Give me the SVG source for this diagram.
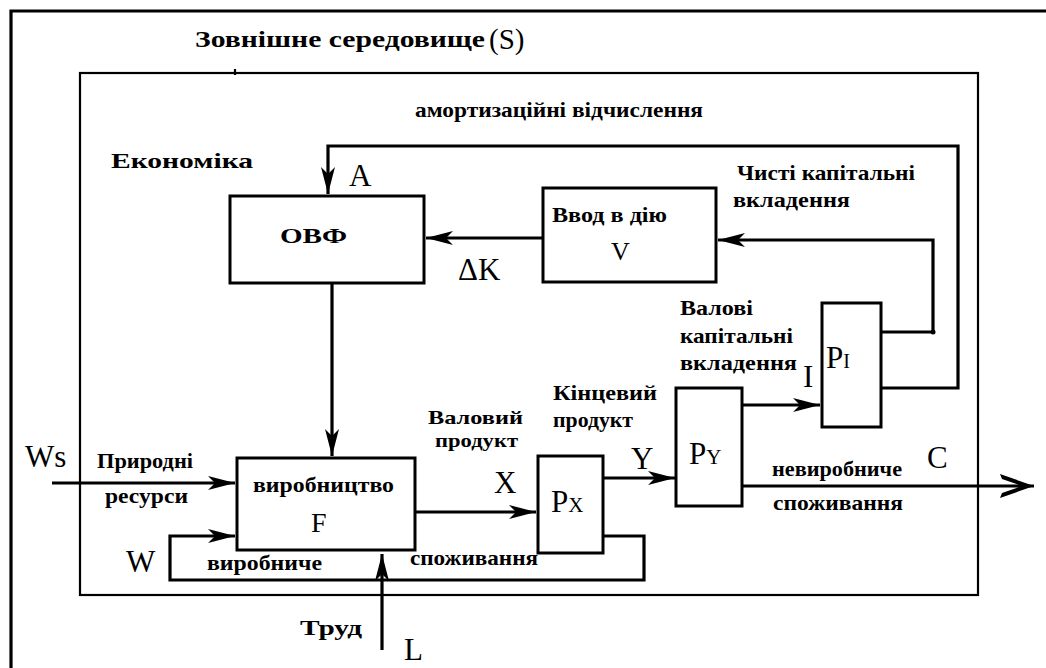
<svg xmlns="http://www.w3.org/2000/svg" width="1046" height="668" viewBox="0 0 1046 668" font-family="Liberation Serif, Times New Roman, serif">
<style>
.lbl{font-family:"Liberation Serif","Times New Roman",serif;font-weight:bold;font-size:21px;fill:#000}
.sym{font-family:"Liberation Serif","Times New Roman",serif;font-size:31px;fill:#000}
.box{fill:#fff;stroke:#000;stroke-width:3}
.ln{fill:none;stroke:#000;stroke-width:3.2}
.thin{fill:none;stroke:#000;stroke-width:2.2}
</style>
<defs>
<marker id="ah" markerUnits="userSpaceOnUse" markerWidth="30" markerHeight="18" refX="27" refY="9" orient="auto">
<path d="M0,2 L27,9 L0,16 L7,9 Z" fill="#000"/>
</marker>
<marker id="ahc" markerUnits="userSpaceOnUse" markerWidth="40" markerHeight="30" refX="36" refY="15" orient="auto">
<path d="M2,3 L36,15 L2,27 L4,22 L24,15 L4,8 Z" fill="#000"/>
</marker>
</defs>
<rect width="1046" height="668" fill="#fff"/>
<g id="environment">
<path class="ln" d="M11,668 V11 H1046"/>
<text class="lbl" x="195" y="47" textLength="290" lengthAdjust="spacingAndGlyphs" style="font-size:24px">Зовнішне середовище</text>
<text class="sym" x="489" y="49" style="font-size:29px">(S)</text>
</g>
<g id="economy">
<rect class="thin" x="80" y="73" width="898" height="522"/>
<line class="thin" x1="235" y1="69" x2="235" y2="75"/>
<text class="lbl" x="111" y="168" textLength="142" lengthAdjust="spacingAndGlyphs" style="font-size:22px">Економіка</text>
</g>
<g id="connectors">
<path class="ln" d="M881,388 H958 V146 H328 V194" marker-end="url(#ah)"/>
<path class="ln" d="M881,332 H933 V240 H718" marker-end="url(#ah)"/>
<circle cx="933" cy="332" r="2.5" fill="#000"/>
<path class="ln" d="M543,238 H426" marker-end="url(#ah)"/>
<path class="ln" d="M332,283 V456" marker-end="url(#ah)"/>
<path class="ln" d="M52,483 H235" marker-end="url(#ah)"/>
<path class="ln" d="M415,512 H536" marker-end="url(#ah)"/>
<path class="ln" d="M603,478 H675" marker-end="url(#ah)"/>
<path class="ln" d="M742,405 H820" marker-end="url(#ah)"/>
<path class="ln" d="M742,486 H1034" marker-end="url(#ahc)"/>
<path class="ln" d="M603,536 H644 V580 H170 V536 H235" marker-end="url(#ah)"/>
<path class="ln" d="M382,650 V554" marker-end="url(#ah)"/>
</g>
<g id="node-ovf">
<rect class="box" x="230" y="196" width="194" height="87"/>
<text class="lbl" x="280" y="243" textLength="67" lengthAdjust="spacingAndGlyphs">ОВФ</text>
</g>
<g id="node-v">
<rect class="box" x="543" y="188" width="173" height="94"/>
<text class="lbl" x="552" y="222" textLength="115" lengthAdjust="spacingAndGlyphs">Ввод в дію</text>
<text class="sym" x="611" y="260" style="font-size:26px">V</text>
</g>
<g id="node-f">
<rect class="box" x="237" y="458" width="178" height="92"/>
<text class="lbl" x="253" y="492" textLength="141" lengthAdjust="spacingAndGlyphs">виробництво</text>
<text class="sym" x="311" y="532" style="font-size:28px">F</text>
</g>
<g id="node-px">
<rect class="box" x="538" y="456" width="65" height="97"/>
<text class="sym" x="551" y="512">P<tspan style="font-size:21px">X</tspan></text>
</g>
<g id="node-py">
<rect class="box" x="676" y="388" width="66" height="118"/>
<text class="sym" x="689" y="464">P<tspan style="font-size:21px">Y</tspan></text>
</g>
<g id="node-pi">
<rect class="box" x="822" y="303" width="59" height="124"/>
<text class="sym" x="826" y="368">P<tspan style="font-size:20px">I</tspan></text>
</g>
<g id="labels">
<text class="lbl" x="415" y="117" textLength="288" lengthAdjust="spacingAndGlyphs">амортизаційні відчислення</text>
<text class="sym" x="349" y="186">A</text>
<text class="sym" x="458" y="280">ΔK</text>
<text class="lbl" x="737" y="180" textLength="178" lengthAdjust="spacingAndGlyphs">Чисті капітальні</text>
<text class="lbl" x="733" y="207" textLength="117" lengthAdjust="spacingAndGlyphs">вкладення</text>
<text class="lbl" x="680" y="315" textLength="73" lengthAdjust="spacingAndGlyphs">Валові</text>
<text class="lbl" x="680" y="343" textLength="113" lengthAdjust="spacingAndGlyphs">капітальні</text>
<text class="lbl" x="680" y="370" textLength="117" lengthAdjust="spacingAndGlyphs">вкладення</text>
<text class="sym" x="803" y="387">I</text>
<text class="lbl" x="553" y="400" textLength="104" lengthAdjust="spacingAndGlyphs">Кінцевий</text>
<text class="lbl" x="553" y="427" textLength="80" lengthAdjust="spacingAndGlyphs">продукт</text>
<text class="sym" x="631" y="469">Y</text>
<text class="lbl" x="428" y="424" textLength="95" lengthAdjust="spacingAndGlyphs" style="font-size:19px">Валовий</text>
<text class="lbl" x="435" y="447" textLength="83" lengthAdjust="spacingAndGlyphs" style="font-size:19px">продукт</text>
<text class="sym" x="494" y="493">X</text>
<text class="lbl" x="772" y="476" textLength="130" lengthAdjust="spacingAndGlyphs">невиробниче</text>
<text class="sym" x="927" y="468">C</text>
<text class="lbl" x="773" y="510" textLength="130" lengthAdjust="spacingAndGlyphs">споживання</text>
<text class="sym" x="25" y="467">Ws</text>
<text class="lbl" x="97" y="468" textLength="96" lengthAdjust="spacingAndGlyphs">Природні</text>
<text class="lbl" x="105" y="503" textLength="83" lengthAdjust="spacingAndGlyphs">ресурси</text>
<text class="sym" x="126" y="572">W</text>
<text class="lbl" x="207" y="570" textLength="115" lengthAdjust="spacingAndGlyphs">виробниче</text>
<text class="lbl" x="410" y="565" textLength="128" lengthAdjust="spacingAndGlyphs">споживання</text>
<text class="lbl" x="300" y="635" textLength="62" lengthAdjust="spacingAndGlyphs">Труд</text>
<text class="sym" x="404" y="660">L</text>
</g>
</svg>
